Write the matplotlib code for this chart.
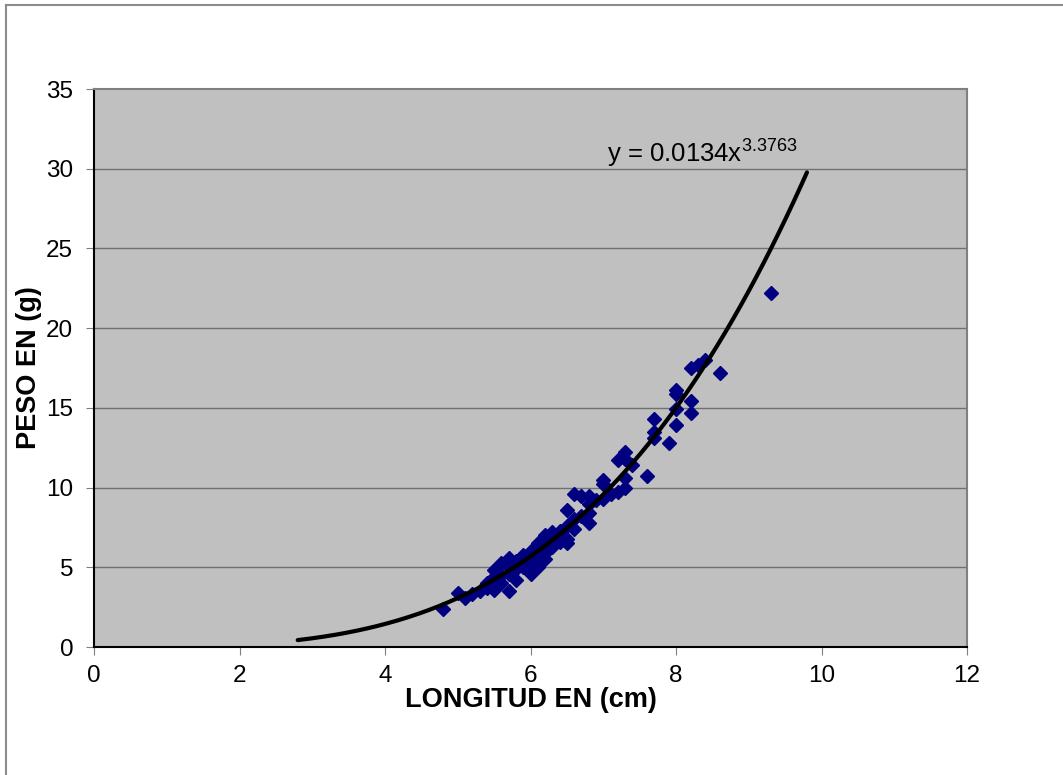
import numpy as np
import matplotlib
matplotlib.use("Agg")
import matplotlib.pyplot as plt
from matplotlib.lines import Line2D

plt.rcParams["font.family"] = ["Liberation Sans", "DejaVu Sans"]
plt.rcParams["mathtext.fontset"] = "custom"
plt.rcParams["mathtext.rm"] = "Liberation Sans"

# -----------------------------
# Datos
# -----------------------------
longitud = [4.8, 5.0, 5.1, 5.2, 5.3, 5.4, 5.4, 5.5, 5.5, 5.5,
            5.6, 5.6, 5.6, 5.7, 5.7, 5.7, 5.7, 5.8, 5.8, 5.8,
            5.9, 5.9, 5.9, 6.0, 6.0, 6.0, 6.0, 6.1, 6.1, 6.1,
            6.2, 6.2, 6.2, 6.2, 6.3, 6.3, 6.3, 6.4, 6.4, 6.4,
            6.5, 6.5, 6.5, 6.5, 6.6, 6.6, 6.6, 6.7, 6.7, 6.8,
            6.8, 6.8, 6.8, 6.9, 7.0, 7.0, 7.0, 7.1, 7.2, 7.2,
            7.3, 7.3, 7.3, 7.3, 7.4, 7.6, 7.7, 7.7, 7.7, 7.9,
            8.0, 8.0, 8.0, 8.0, 8.2, 8.2, 8.2, 8.3, 8.4, 8.6,
            9.3]
peso = [2.4, 3.4, 3.1, 3.3, 3.5, 3.7, 4.0, 4.8, 3.6, 4.4,
        5.3, 4.5, 4.0, 5.6, 3.5, 4.6, 5.0, 4.2, 5.4, 4.9,
        5.0, 5.8, 5.4, 4.6, 5.5, 6.0, 5.2, 6.5, 5.6, 5.0,
        7.0, 5.9, 6.3, 5.5, 6.3, 6.8, 7.2, 7.3, 6.6, 7.0,
        8.6, 6.8, 7.6, 6.5, 9.6, 8.0, 7.4, 9.5, 8.2, 9.5,
        9.0, 7.8, 8.4, 9.2, 10.5, 10.2, 9.3, 9.6, 11.7, 9.7,
        12.2, 10.6, 10.0, 11.8, 11.4, 10.7, 14.3, 13.5, 13.1, 12.8,
        16.1, 15.9, 14.9, 13.9, 17.5, 15.4, 14.7, 17.7, 18.0, 17.2,
        22.2]

# linea de tendencia potencial (coeficientes de la etiqueta)
coef_a = 0.0134
coef_b = 3.3763
x_min_tend, x_max_tend = 2.8, 9.8

x_ticks = [0, 2, 4, 6, 8, 10, 12]
y_ticks = [0, 5, 10, 15, 20, 25, 30, 35]

# -----------------------------
# Grafico
# -----------------------------
fig = plt.figure(figsize=(10.63, 7.75), dpi=100)
ax = fig.add_axes([94 / 1063, 1 - 647 / 775, 873 / 1063, 558 / 775])
ax.set_facecolor("#c0c0c0")

for yt in y_ticks[1:-1]:
    ax.axhline(yt, color="#707070", lw=1.0, zorder=1)

ax.plot(longitud, peso, linestyle="none", marker="D", ms=7.5,
        color="#000080", zorder=3)

xt = np.linspace(x_min_tend, x_max_tend, 200)
ax.plot(xt, coef_a * xt ** coef_b, color="black", lw=3, zorder=4,
        solid_capstyle="round")

ax.text(7.05, 31.0, r"y = 0.0134x$^{\mathregular{3.3763}}$", fontsize=18.5,
        va="center", ha="left", zorder=5)

ax.set_xlim(0, 12)
ax.set_ylim(0, 35)
ax.set_xticks(x_ticks)
ax.set_yticks(y_ticks)
ax.tick_params(direction="out", length=6, color="#808080", labelsize=17.5)
ax.tick_params(axis="x", pad=7)
ax.tick_params(axis="y", pad=9)

ax.spines["left"].set_color("black")
ax.spines["bottom"].set_color("black")
ax.spines["top"].set_color("#808080")
ax.spines["right"].set_color("#808080")
for s in ax.spines.values():
    s.set_linewidth(1.5)

ax.set_xlabel("LONGITUD EN (cm)", fontsize=19.5, fontweight="bold")
ax.set_ylabel("PESO EN (g)", fontsize=19.5, fontweight="bold")
ax.xaxis.set_label_coords(0.5, -0.071)
ax.yaxis.set_label_coords(-0.059, 0.5)

# borde del area del grafico
fig.add_artist(Line2D([6 / 1063, 6 / 1063], [0, 1 - 5 / 775],
                      transform=fig.transFigure, color="#8c8c8c", lw=1.5))
fig.add_artist(Line2D([6 / 1063, 1], [1 - 5 / 775, 1 - 5 / 775],
                      transform=fig.transFigure, color="#8c8c8c", lw=1.5))

fig.savefig("out.png", dpi=100)
